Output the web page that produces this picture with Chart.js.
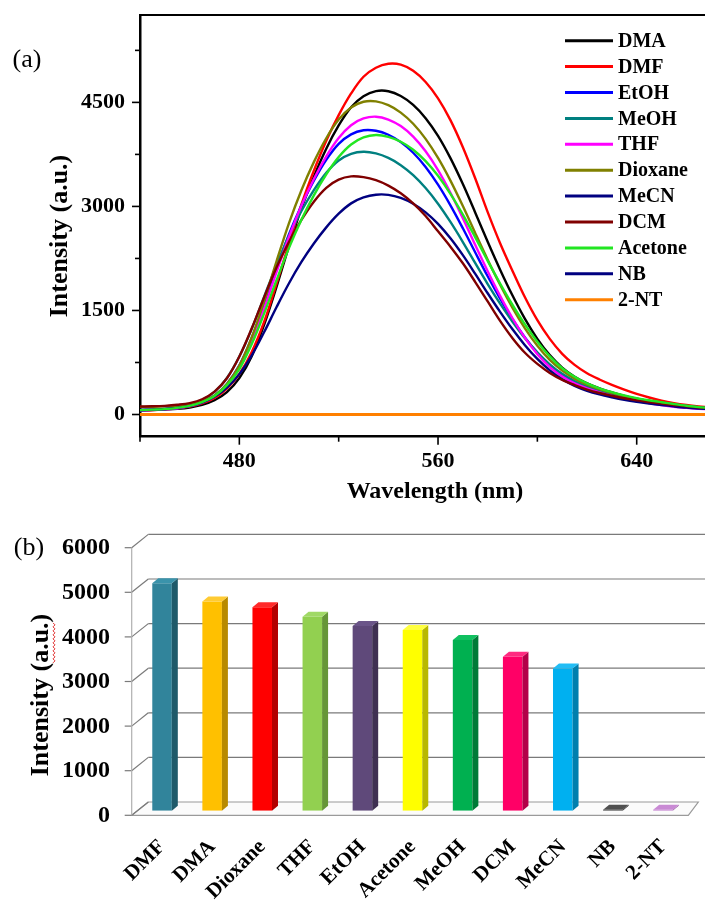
<!DOCTYPE html>
<html>
<head>
<meta charset="utf-8">
<script src="https://cdn.jsdelivr.net/npm/chart.js@4.4.1/dist/chart.umd.min.js"></script>
<style>
  body { margin: 0; background: #fff; }
  #page { position: relative; width: 705px; height: 907px; }
  #spectraChart { position: absolute; left: 0; top: 0; }
  #barChart { position: absolute; left: 0; top: 520px; }
</style>
</head>
<body>
<div id="page">
  <canvas id="spectraChart" width="705" height="520"></canvas>
  <canvas id="barChart" width="705" height="387"></canvas>
</div>
<script>
// (a) EMISSION SPECTRA

const wavelengths = [
  440, 445, 450, 455, 460, 465, 470, 475, 480, 485, 490, 495, 500, 505, 510, 515,
  520, 525, 530, 535, 540, 545, 550, 555, 560, 565, 570, 575, 580, 585, 590, 595,
  600, 605, 610, 615, 620, 625, 630, 635, 640, 645, 650, 655, 660, 665, 670,
];

const dmaSpectrum = [
  60, 63, 71, 81, 101, 139, 206, 323, 525, 841, 1296, 1843, 2428, 2971, 3430, 3832,
  4167, 4429, 4588, 4662, 4661, 4592, 4464, 4273, 4017, 3696, 3322, 2910, 2490, 2088, 1715, 1379,
  1091, 856, 677, 545, 449, 377, 318, 268, 227, 193, 161, 131, 109, 93, 82,
];
const dmfSpectrum = [
  60, 66, 76, 90, 115, 162, 239, 374, 584, 902, 1338, 1889, 2465, 3028, 3515, 3948,
  4316, 4629, 4870, 5000, 5057, 5044, 4956, 4795, 4559, 4244, 3853, 3403, 2918, 2470, 2070, 1690,
  1360, 1090, 875, 715, 595, 505, 428, 360, 298, 245, 200, 165, 138, 117, 100,
];
const etohSpectrum = [
  60, 68, 76, 91, 121, 176, 271, 441, 708, 1103, 1590, 2113, 2601, 3014, 3370, 3671,
  3901, 4039, 4098, 4091, 4033, 3927, 3774, 3569, 3314, 3016, 2685, 2336, 1993, 1671, 1374, 1111,
  889, 710, 572, 469, 394, 335, 287, 245, 211, 181, 155, 130, 109, 94, 83,
];
const meohSpectrum = [
  64, 70, 81, 101, 139, 206, 326, 527, 836, 1235, 1700, 2158, 2577, 2934, 3234, 3484,
  3662, 3758, 3788, 3764, 3699, 3595, 3451, 3265, 3039, 2776, 2487, 2182, 1881, 1599, 1338, 1100,
  897, 724, 586, 483, 404, 344, 298, 257, 223, 194, 170, 146, 124, 106, 93,
];
const thfSpectrum = [
  63, 68, 77, 91, 120, 171, 258, 415, 668, 1052, 1533, 2057, 2562, 3011, 3396, 3722,
  3987, 4171, 4268, 4294, 4253, 4158, 4006, 3795, 3524, 3198, 2831, 2443, 2066, 1711, 1388, 1105,
  869, 684, 548, 448, 375, 317, 268, 227, 194, 164, 135, 112, 96, 84, 75,
];
const dioxaneSpectrum = [
  110, 112, 118, 128, 150, 195, 275, 440, 705, 1115, 1636, 2212, 2759, 3233, 3639, 3983,
  4252, 4426, 4509, 4515, 4460, 4353, 4192, 3974, 3699, 3372, 3005, 2614, 2232, 1870, 1538, 1243,
  991, 787, 633, 517, 431, 365, 311, 265, 226, 194, 164, 136, 113, 97, 85,
];
const mecnSpectrum = [
  66, 71, 79, 95, 124, 173, 256, 388, 582, 853, 1189, 1550, 1893, 2199, 2465, 2698,
  2895, 3044, 3129, 3169, 3167, 3123, 3039, 2915, 2749, 2541, 2297, 2027, 1748, 1480, 1228, 1000,
  801, 636, 507, 412, 341, 289, 248, 212, 183, 159, 138, 117, 99, 87, 78,
];
const dcmSpectrum = [
  115, 118, 125, 140, 165, 220, 330, 523, 837, 1243, 1693, 2122, 2490, 2805, 3068, 3268,
  3386, 3433, 3422, 3378, 3300, 3189, 3043, 2861, 2641, 2420, 2180, 1910, 1630, 1350, 1100, 890,
  730, 600, 500, 425, 360, 310, 270, 234, 204, 180, 158, 138, 118, 102, 90,
];
const acetoneSpectrum = [
  63, 70, 78, 95, 125, 179, 267, 423, 656, 1017, 1459, 1939, 2402, 2808, 3160, 3463,
  3712, 3893, 3994, 4030, 4004, 3933, 3818, 3654, 3442, 3182, 2882, 2554, 2215, 1889, 1581, 1299,
  1050, 839, 669, 543, 448, 378, 324, 277, 237, 205, 177, 151, 127, 107, 93,
];
const nbSpectrum = [
  0, 0, 0, 0, 0, 0, 0, 0, 0, 0, 0, 0, 0, 0, 0, 0,
  0, 0, 0, 0, 0, 0, 0, 0, 0, 0, 0, 0, 0, 0, 0, 0,
  0, 0, 0, 0, 0, 0, 0, 0, 0, 0, 0, 0, 0, 0, 0,
];
const ntSpectrum = [
  0, 0, 0, 0, 0, 0, 0, 0, 0, 0, 0, 0, 0, 0, 0, 0,
  0, 0, 0, 0, 0, 0, 0, 0, 0, 0, 0, 0, 0, 0, 0, 0,
  0, 0, 0, 0, 0, 0, 0, 0, 0, 0, 0, 0, 0, 0, 0,
];

const spectraNames = ["DMA", "DMF", "EtOH", "MeOH", "THF", "Dioxane", "MeCN", "DCM", "Acetone", "NB", "2-NT"];
const spectraValues = [
  dmaSpectrum, dmfSpectrum, etohSpectrum, meohSpectrum, thfSpectrum, dioxaneSpectrum,
  mecnSpectrum, dcmSpectrum, acetoneSpectrum, nbSpectrum, ntSpectrum,
];
const spectraColors = [
  "#000000", "#ff0000", "#0000ff", "#008080", "#ff00ff", "#808000",
  "#000080", "#800000", "#22e622", "#000080", "#ff8000",
];

const xMajorTicks = [480, 560, 640];
const xMinorTicks = [440, 520, 600];
const yMajorTicks = [0, 1500, 3000, 4500];
const yMinorTicks = [750, 2250, 3750, 5250];

// (b) PEAK INTENSITY BARS

const barSolvents = ["DMF", "DMA", "Dioxane", "THF", "EtOH", "Acetone", "MeOH", "DCM", "MeCN", "NB", "2-NT"];
const peakIntensity = [5100, 4690, 4560, 4350, 4140, 4050, 3830, 3450, 3190, 20, 20];
const barFront = ["#31849b", "#ffc000", "#ff0000", "#92d050", "#5f497a", "#ffff00", "#00b050", "#ff0066", "#00b0f0", "#404040", "#c47fd0"];
const barSide = ["#1f5a6a", "#b88a00", "#b30000", "#669638", "#3f3052", "#b8b800", "#007a37", "#b30048", "#007fae", "#2a2a2a", "#9a5aa6"];
const barTop = ["#3a93ab", "#ffcb33", "#ff2a2a", "#a0d966", "#6b5589", "#ffff40", "#10c060", "#ff2a80", "#22bdf5", "#505050", "#c98ad4"];
const barTicks = [0, 1000, 2000, 3000, 4000, 5000, 6000];

const serif = "'Liberation Serif', 'Times New Roman', serif";
Chart.defaults.font.family = serif;
Chart.defaults.color = "#000";

function line(ctx, x1, y1, x2, y2) {
  ctx.beginPath();
  ctx.moveTo(x1, y1);
  ctx.lineTo(x2, y2);
  ctx.stroke();
}

// keep the plot box where it is in the picture
function fixWidth(w) {
  return (s) => { s.width = w; s.paddingTop = 0; s.paddingBottom = 0; };
}
function fixHeight(h) {
  return (s) => { s.height = h; s.paddingLeft = 0; s.paddingRight = 0; };
}

const spectraDecor = {
  id: "spectraDecor",
  afterDraw(chart) {
    const { ctx, chartArea: a, scales } = chart;
    const x = scales.x, y = scales.y;
    ctx.save();
    ctx.strokeStyle = "#000";
    ctx.lineWidth = 2;
    line(ctx, a.left, a.top, a.right, a.top);

    ctx.lineWidth = 1.6;
    yMajorTicks.forEach((v) => { const p = y.getPixelForValue(v); line(ctx, a.left - 8, p, a.left, p); });
    yMinorTicks.forEach((v) => { const p = y.getPixelForValue(v); line(ctx, a.left - 5, p, a.left, p); });
    xMajorTicks.forEach((v) => { const p = x.getPixelForValue(v); line(ctx, p, a.bottom, p, a.bottom + 8); });
    xMinorTicks.forEach((v) => { const p = x.getPixelForValue(v); line(ctx, p, a.bottom, p, a.bottom + 5); });

    ctx.fillStyle = "#000";
    ctx.textAlign = "center";
    ctx.textBaseline = "middle";
    ctx.font = "bold 24px " + serif;
    ctx.fillText("Wavelength (nm)", 435, 492);
    ctx.save();
    ctx.translate(60, 236);
    ctx.rotate(-Math.PI / 2);
    ctx.font = "bold 26px " + serif;
    ctx.fillText("Intensity (a.u.)", 0, 0);
    ctx.restore();
    ctx.font = "26px " + serif;
    ctx.fillText("(a)", 27, 60);

    // legend
    ctx.textAlign = "left";
    ctx.font = "bold 20px " + serif;
    spectraNames.forEach((name, i) => {
      const ly = 40.7 + i * 25.9;
      ctx.strokeStyle = spectraColors[i];
      ctx.lineWidth = 3;
      line(ctx, 565, ly, 613, ly);
      ctx.fillText(name, 618, ly + 1);
    });
    ctx.restore();
  },
};

new Chart(document.getElementById("spectraChart"), {
  type: "line",
  data: {
    datasets: spectraNames.map((name, i) => ({
      label: name,
      data: wavelengths.map((w, j) => ({ x: w, y: spectraValues[i][j] })),
      borderColor: spectraColors[i],
      borderWidth: name === "2-NT" ? 3 : 2.4,
      pointRadius: 0,
      tension: 0.35,
      fill: false,
      order: spectraNames.length - i,
    })),
  },
  options: {
    responsive: false,
    animation: false,
    layout: { padding: { top: 15, right: 0, left: 0, bottom: 0 } },
    plugins: { legend: { display: false }, tooltip: { enabled: false } },
    scales: {
      x: {
        type: "linear",
        min: 440,
        max: 667.5,
        afterFit: fixHeight(83.3),
        afterBuildTicks: (s) => { s.ticks = xMajorTicks.map((v) => ({ value: v })); },
        grid: { display: false, drawTicks: false },
        border: { display: true, color: "#000", width: 2.5 },
        ticks: { padding: 11, font: { size: 22, weight: "bold" }, callback: (v) => String(v) },
      },
      y: {
        min: -320,
        max: 5760,
        afterFit: fixWidth(140),
        afterBuildTicks: (s) => { s.ticks = yMajorTicks.map((v) => ({ value: v })); },
        grid: { display: false, drawTicks: false },
        border: { display: true, color: "#000", width: 2.5 },
        ticks: { padding: 15, font: { size: 22, weight: "bold" }, callback: (v) => String(v) },
      },
    },
  },
  plugins: [spectraDecor],
});

// 3D look for the bar chart: walls, floor and bar faces
const bar3d = {
  id: "bar3d",
  beforeDatasetsDraw(chart) {
    const { ctx, scales } = chart;
    const y = scales.y;
    const fx = 131.7, bx = 148.3;
    const front = (v) => y.getPixelForValue(v) + 4.6;
    const back = (v) => y.getPixelForValue(v) - 8.7;
    ctx.save();
    // floor
    ctx.fillStyle = "#fbfbfb";
    ctx.strokeStyle = "#9a9a9a";
    ctx.lineWidth = 1.2;
    ctx.beginPath();
    ctx.moveTo(fx, front(0));
    ctx.lineTo(688.3, front(0));
    ctx.lineTo(698.3, back(0));
    ctx.lineTo(bx, back(0));
    ctx.closePath();
    ctx.fill();
    ctx.stroke();
    // back wall grid and side wall lines
    ctx.strokeStyle = "#7a7a7a";
    barTicks.forEach((v) => {
      if (v > 0) line(ctx, bx, back(v), 705, back(v));
      line(ctx, fx, front(v), bx, back(v));
      line(ctx, fx - 7, front(v), fx, front(v));
    });
    ctx.strokeStyle = "#b0b0b0";
    line(ctx, fx, front(6000), fx, front(0));
    ctx.restore();
  },
  afterDatasetsDraw(chart) {
    const { ctx } = chart;
    const meta = chart.getDatasetMeta(0);
    const dx = 6, dy = 5;
    ctx.save();
    meta.data.forEach((bar, i) => {
      const { x, y, base, width } = bar.getProps(["x", "y", "base", "width"], true);
      const l = x - width / 2, r = x + width / 2;
      ctx.fillStyle = barSide[i];
      ctx.beginPath();
      ctx.moveTo(r, y);
      ctx.lineTo(r + dx, y - dy);
      ctx.lineTo(r + dx, base - dy);
      ctx.lineTo(r, base);
      ctx.closePath();
      ctx.fill();
      ctx.fillStyle = barTop[i];
      ctx.beginPath();
      ctx.moveTo(l, y);
      ctx.lineTo(l + dx, y - dy);
      ctx.lineTo(r + dx, y - dy);
      ctx.lineTo(r, y);
      ctx.closePath();
      ctx.fill();
    });
    ctx.restore();
  },
  afterDraw(chart) {
    const { ctx } = chart;
    ctx.save();
    ctx.fillStyle = "#000";
    ctx.textAlign = "center";
    ctx.textBaseline = "middle";
    ctx.font = "26px " + serif;
    ctx.fillText("(b)", 29, 28);
    ctx.translate(41.5, 175);
    ctx.rotate(-Math.PI / 2);
    ctx.font = "bold 26px " + serif;
    const title = "Intensity (a.u.)";
    ctx.fillText(title, 0, 0);
    // spell-check squiggle under "a.u."
    const total = ctx.measureText(title).width;
    const start = -total / 2 + ctx.measureText("Intensity (").width;
    const end = start + ctx.measureText("a.u.").width;
    ctx.strokeStyle = "#e03030";
    ctx.lineWidth = 1;
    ctx.beginPath();
    for (let px = start, k = 0; px <= end; px += 2, k++) {
      const py = 12 + (k % 2 ? 1.5 : -0.5);
      if (k === 0) ctx.moveTo(px, py); else ctx.lineTo(px, py);
    }
    ctx.stroke();
    ctx.restore();
  },
};

new Chart(document.getElementById("barChart"), {
  type: "bar",
  data: {
    labels: barSolvents,
    datasets: [
      {
        data: peakIntensity,
        backgroundColor: barFront,
        borderWidth: 0,
        barPercentage: 0.39,
        categoryPercentage: 1,
      },
    ],
  },
  options: {
    responsive: false,
    animation: false,
    layout: { padding: { top: 23.1, right: 17, left: 0, bottom: 0 } },
    plugins: { legend: { display: false }, tooltip: { enabled: false } },
    scales: {
      x: {
        afterFit: fixHeight(96.3),
        grid: { display: false, drawTicks: false },
        border: { display: false },
        ticks: {
          minRotation: 45,
          maxRotation: 45,
          padding: 24,
          labelOffset: 0,
          autoSkip: false,
          font: { size: 21, weight: "bold" },
        },
      },
      y: {
        min: 0,
        max: 6000,
        afterFit: fixWidth(137),
        afterBuildTicks: (s) => { s.ticks = barTicks.map((v) => ({ value: v })); },
        grid: { display: false, drawTicks: false },
        border: { display: false },
        ticks: { padding: 27, labelOffset: 5, font: { size: 24, weight: "bold" }, callback: (v) => String(v) },
      },
    },
  },
  plugins: [bar3d],
});
</script>
</body>
</html>
